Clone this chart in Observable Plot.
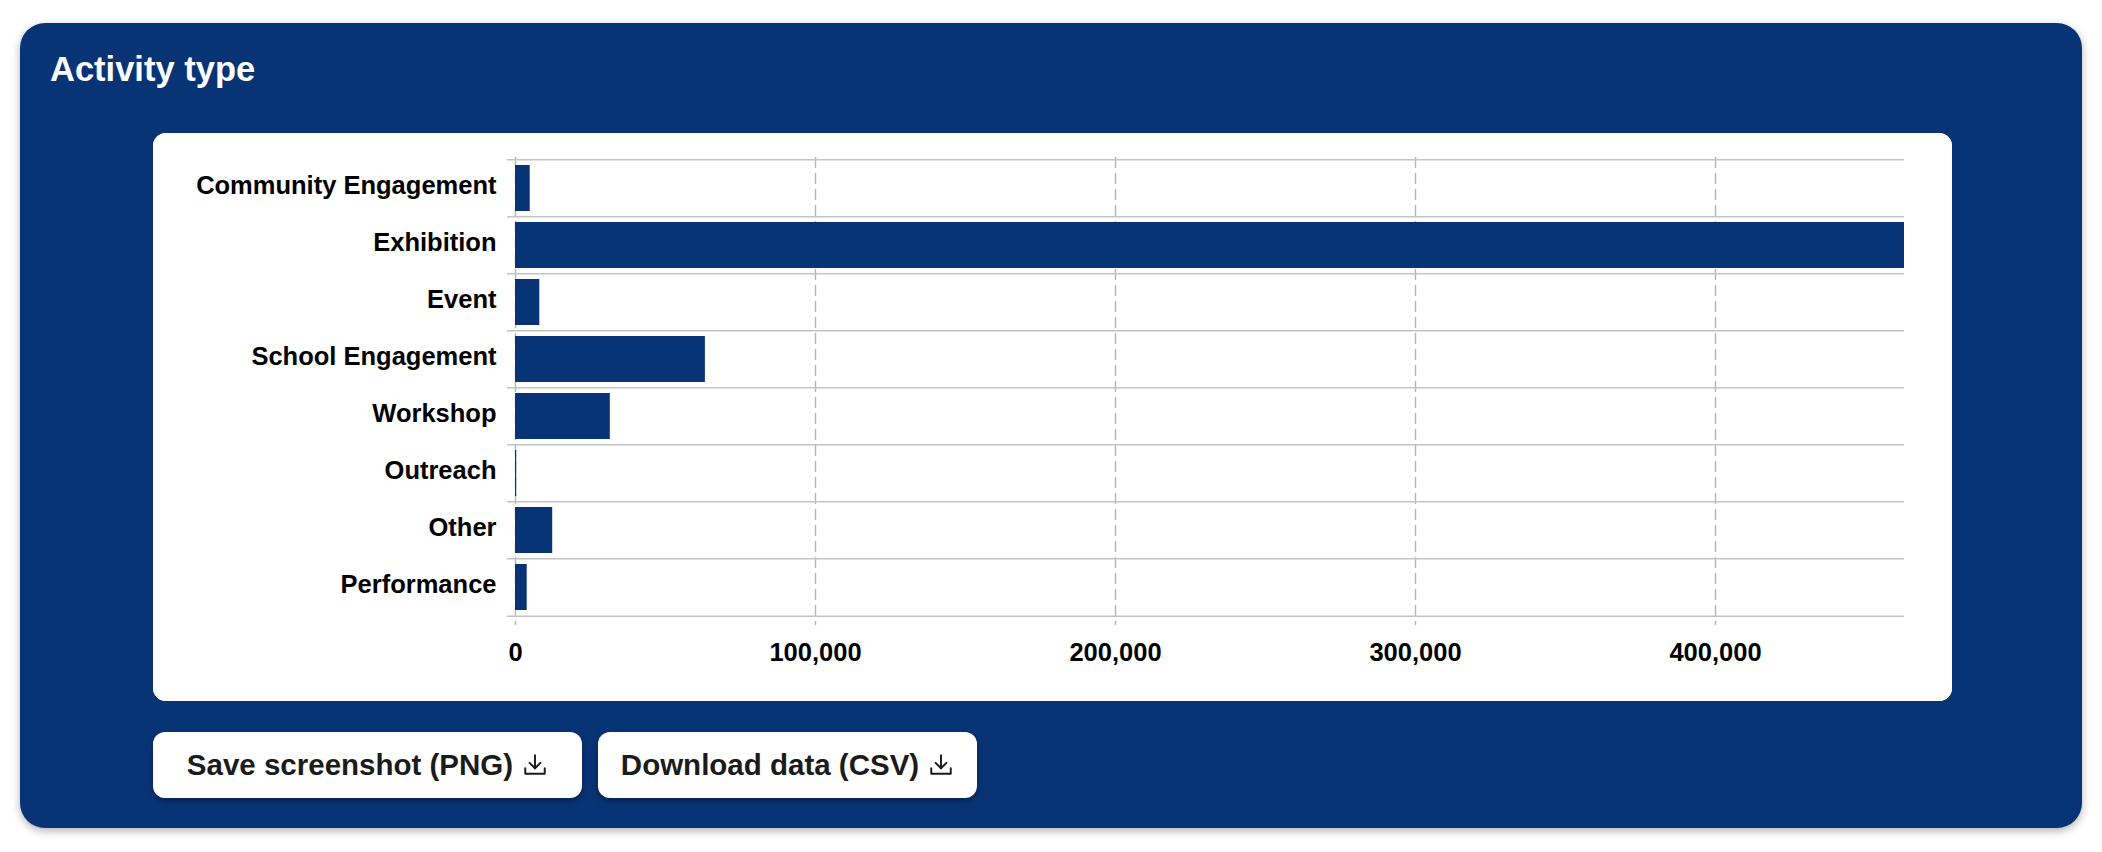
<!DOCTYPE html>
<html>
<head>
<meta charset="utf-8">
<script src="https://cdn.jsdelivr.net/npm/d3@7"></script>
<script src="https://cdn.jsdelivr.net/npm/@observablehq/plot@0.6"></script>
<style>
  html, body { margin: 0; padding: 0; background: #ffffff; }
  body { width: 2102px; height: 852px; position: relative; overflow: hidden;
         font-family: "Liberation Sans", Arial, sans-serif; }
  .panel { position: absolute; left: 20px; top: 23px; width: 2062px; height: 805px;
           background: #083476; border-radius: 25px;
           box-shadow: 0 3px 8px rgba(0,0,0,0.30); }
  .title { position: absolute; left: 30px; top: 29px; margin: 0;
           font-size: 34.5px; line-height: 34px; font-weight: 700; color: #ffffff; }
  .card { position: absolute; left: 133px; top: 110px; width: 1799px; height: 568px;
          background: #ffffff; border-radius: 13px; overflow: hidden; }
  .card svg { display: block; }
  .btn { position: absolute; top: 709px; height: 66px; box-sizing: border-box;
         background: #ffffff; border-radius: 12px; border: none;
         box-shadow: 0 3px 7px rgba(0,0,0,0.35);
         display: flex; align-items: center; justify-content: center; gap: 9px;
         font-family: "Liberation Sans", Arial, sans-serif;
         font-size: 29.5px; font-weight: 700; color: #1b1b1b; }
  .btn svg { display: block; }
</style>
</head>
<body>
<div class="panel">
  <h2 class="title">Activity type</h2>
  <div class="card" id="chart"></div>
  <div class="btn" style="left:133px; width:429px;">
    <span>Save screenshot (PNG)</span>
    <svg width="26" height="26" viewBox="0 0 24 24" fill="none" stroke="#1b1b1b" stroke-width="1.8" stroke-linecap="round" stroke-linejoin="round"><path d="M3 15v5h18v-5"/><path d="M12 3v12"/><path d="M7 10l5 5 5-5"/></svg>
  </div>
  <div class="btn" style="left:578px; width:379px;">
    <span>Download data (CSV)</span>
    <svg width="26" height="26" viewBox="0 0 24 24" fill="none" stroke="#1b1b1b" stroke-width="1.8" stroke-linecap="round" stroke-linejoin="round"><path d="M3 15v5h18v-5"/><path d="M12 3v12"/><path d="M7 10l5 5 5-5"/></svg>
  </div>
</div>
<script>
const categories = ["Community Engagement", "Exhibition", "Event", "School Engagement", "Workshop", "Outreach", "Other", "Performance"];
const values = [4900, 463000, 8100, 63300, 31600, 400, 12400, 3900];
const xTicks = [0, 100000, 200000, 300000, 400000];

const data = categories.map((c, i) => ({category: c, value: values[i]}));

const W = 1799, H = 568, mL = 362, mR = 48, mT = 24, mB = 84;
const step = (H - mT - mB) / categories.length;

const chart = Plot.plot({
  width: W,
  height: H,
  marginLeft: mL,
  marginRight: mR,
  marginTop: mT,
  marginBottom: mB,
  style: {background: "#ffffff", fontFamily: "'Liberation Sans', Arial, sans-serif", fontSize: "25.5px", fontWeight: "700", color: "#000000", overflow: "visible"},
  x: {domain: [0, d3.max(values)], label: null},
  y: {domain: categories, paddingInner: 0.2, paddingOuter: 0.1, label: null},
  marks: [
    Plot.ruleX(xTicks, {x: d => d, stroke: "#b4b4b4", strokeWidth: 1.4, strokeDasharray: "11,5", insetBottom: -8}),
    Plot.ruleY(categories, {y: d => d, dy: -step / 2, insetLeft: -8, stroke: "#c4c4c4", strokeWidth: 1.4}),
    Plot.ruleY([categories[categories.length - 1]], {y: d => d, dy: step / 2, insetLeft: -8, stroke: "#c4c4c4", strokeWidth: 1.4}),
    Plot.barX(data, {y: "category", x: "value", fill: "#083476"}),
    Plot.axisY({tickSize: 0, tickPadding: 19, dy: -3, label: null}),
    Plot.axisX({ticks: xTicks, tickSize: 0, tickPadding: 25, tickFormat: d3.format(","), label: null})
  ]
});
document.getElementById("chart").appendChild(chart);
</script>
</body>
</html>
